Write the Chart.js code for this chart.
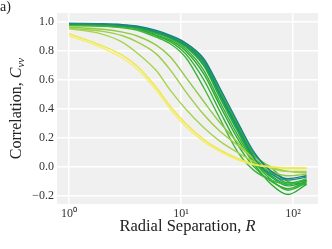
<!DOCTYPE html>
<html>
<head>
<meta charset="utf-8">
<script src="https://cdn.jsdelivr.net/npm/chart.js@4/dist/chart.umd.min.js"></script>
<style>
  body { margin: 0; background: #fff; }
  #wrap { position: relative; width: 332px; height: 249px; }
  #tag { position: absolute; left: 0px; top: -1px; font: 14px 'Liberation Serif', serif; color: #222; }
</style>
</head>
<body>
<div id="wrap">
  <canvas id="corr-chart"></canvas>
  <div id="tag">a)</div>
</div>
<script>
// radial separations the correlation was sampled at
const radius = [1, 2, 3, 4, 6, 8, 11, 16, 22, 32, 45, 64, 90, 132];
const xTicks = [1, 10, 100];
const yTicks = [-0.2, 0, 0.2, 0.4, 0.6, 0.8, 1.0];

// one curve per run (yellow -> teal)
const yellowA = [0.92, 0.835, 0.77, 0.70, 0.55, 0.42, 0.30, 0.19, 0.12, 0.06, 0.02, 0.0, -0.01, -0.01];
const yellowB = [0.905, 0.82, 0.75, 0.68, 0.53, 0.40, 0.28, 0.175, 0.11, 0.05, 0.015, 0.0, -0.005, -0.005];
const limeA = [0.955, 0.915, 0.86, 0.79, 0.665, 0.53, 0.40, 0.27, 0.18, 0.10, 0.035, -0.01, -0.03, -0.03];
const limeB = [0.955, 0.935, 0.905, 0.865, 0.78, 0.67, 0.52, 0.36, 0.25, 0.15, 0.06, 0.0, -0.03, -0.04];
const limeC = [0.965, 0.95, 0.93, 0.905, 0.84, 0.76, 0.62, 0.45, 0.31, 0.17, 0.05, -0.03, -0.06, -0.05];
const greenA = [0.975, 0.97, 0.96, 0.945, 0.895, 0.85, 0.755, 0.545, 0.34, 0.105, -0.025, -0.09, -0.12, -0.08];
const greenB = [0.985, 0.98, 0.97, 0.955, 0.905, 0.865, 0.78, 0.60, 0.39, 0.155, 0.0, -0.10, -0.15, -0.10];
const greenC = [0.98, 0.975, 0.968, 0.955, 0.91, 0.875, 0.80, 0.64, 0.43, 0.195, 0.02, -0.12, -0.19, -0.12];
const greenD = [0.985, 0.98, 0.972, 0.96, 0.92, 0.885, 0.815, 0.665, 0.455, 0.22, 0.035, -0.09, -0.16, -0.11];
const greenE = [0.985, 0.98, 0.973, 0.962, 0.925, 0.89, 0.83, 0.695, 0.485, 0.245, 0.045, -0.07, -0.13, -0.10];
const greenF = [0.985, 0.982, 0.974, 0.963, 0.928, 0.892, 0.835, 0.705, 0.50, 0.26, 0.055, -0.06, -0.12, -0.09];
const tealA = [0.99, 0.985, 0.975, 0.965, 0.93, 0.895, 0.84, 0.72, 0.51, 0.27, 0.06, -0.05, -0.09, -0.07];
const greenG = [0.985, 0.982, 0.975, 0.966, 0.933, 0.90, 0.845, 0.728, 0.522, 0.282, 0.072, -0.04, -0.11, -0.09];
const greenH = [0.98, 0.978, 0.972, 0.965, 0.938, 0.903, 0.85, 0.735, 0.535, 0.295, 0.085, -0.005, -0.10, -0.12];
const tealB = [0.99, 0.988, 0.982, 0.972, 0.942, 0.908, 0.855, 0.745, 0.55, 0.31, 0.10, -0.03, -0.08, -0.06];

// [values, colour, draw on top?]
const curves = [
  [yellowA, '#eee84a', true], [yellowB, '#f4ef66', true],
  [limeA, '#a6d44a'], [limeB, '#9ccf45'], [limeC, '#8fcb42'],
  [greenA, '#41b53a'], [greenB, '#2eae30'], [greenC, '#27aa2c'], [greenD, '#33b032'],
  [greenE, '#24a83a'], [greenF, '#20a04f'], [tealA, '#1b8f78', true],
  [greenG, '#29ac2e'], [greenH, '#3db43a'], [tealB, '#177f86', true]
];

const serif = "'Liberation Serif', serif";

// gray panel behind the lines
const panelBg = {
  id: 'panelBg',
  beforeDraw(chart) {
    const { ctx, chartArea: a } = chart;
    ctx.save();
    ctx.fillStyle = '#f0f0f0';
    ctx.fillRect(a.left, a.top, a.right - a.left, a.bottom - a.top);
    ctx.restore();
  }
};

// axis titles with italic symbols
function drawParts(ctx, parts, cx, cy) {
  let total = 0;
  parts.forEach(p => { ctx.font = p.font; total += ctx.measureText(p.text).width; });
  let x = cx - total / 2;
  parts.forEach(p => {
    ctx.font = p.font;
    ctx.fillText(p.text, x, cy + (p.dy || 0));
    x += ctx.measureText(p.text).width;
  });
}

const axisTitles = {
  id: 'axisTitles',
  afterDraw(chart) {
    const { ctx, chartArea: a } = chart;
    ctx.save();
    ctx.fillStyle = '#222';
    ctx.textBaseline = 'middle';
    ctx.textAlign = 'left';
    drawParts(ctx, [
      { text: 'Radial Separation, ', font: '16.5px ' + serif },
      { text: 'R', font: 'italic 16.5px ' + serif }
    ], (a.left + a.right) / 2, 227);
    ctx.translate(17, (a.top + a.bottom) / 2);
    ctx.rotate(-Math.PI / 2);
    drawParts(ctx, [
      { text: 'Correlation, ', font: '16px ' + serif },
      { text: 'C', font: 'italic 16px ' + serif },
      { text: 'vv', font: 'italic 11px ' + serif, dy: 4 }
    ], 0, 0);
    ctx.restore();
  }
};

new Chart(document.querySelector('#corr-chart').getContext('2d'), {
  type: 'line',
  data: {
    datasets: curves.map(([vals, color, top]) => ({
      data: vals.map((v, i) => ({ x: radius[i], y: v })),
      borderColor: color,
      borderWidth: 1.4,
      pointRadius: 0,
      cubicInterpolationMode: 'monotone',
      fill: false,
      order: top ? 0 : 1
    }))
  },
  options: {
    responsive: true,
    maintainAspectRatio: false,
    animation: false,
    layout: { padding: { top: 13, right: 14, left: 0, bottom: 0 } },
    plugins: { legend: { display: false }, tooltip: { enabled: false } },
    scales: {
      x: {
        type: 'logarithmic',
        min: 0.78,
        max: 167,
        border: { display: false },
        grid: { color: '#ffffff', lineWidth: 1.5, drawTicks: false },
        afterBuildTicks: axis => { axis.ticks = xTicks.map(v => ({ value: v })); },
        afterFit: s => { s.height = 45; },
        ticks: {
          autoSkip: false,
          maxRotation: 0,
          padding: 3,
          color: '#333',
          font: { family: serif, size: 12 },
          callback: v => ({ 1: '10⁰', 10: '10¹', 100: '10²' })[v]
        }
      },
      y: {
        min: -0.255,
        max: 1.062,
        border: { display: false },
        grid: { color: '#ffffff', lineWidth: 1.5, drawTicks: false },
        afterBuildTicks: axis => { axis.ticks = yTicks.map(v => ({ value: v })); },
        afterFit: s => { s.width = 57; },
        ticks: {
          padding: 3,
          color: '#333',
          font: { family: serif, size: 12 },
          callback: v => (v < -0.001 ? '\u2212' + Math.abs(v).toFixed(1) : Math.abs(v).toFixed(1))
        }
      }
    }
  },
  plugins: [panelBg, axisTitles]
});
</script>
</body>
</html>
